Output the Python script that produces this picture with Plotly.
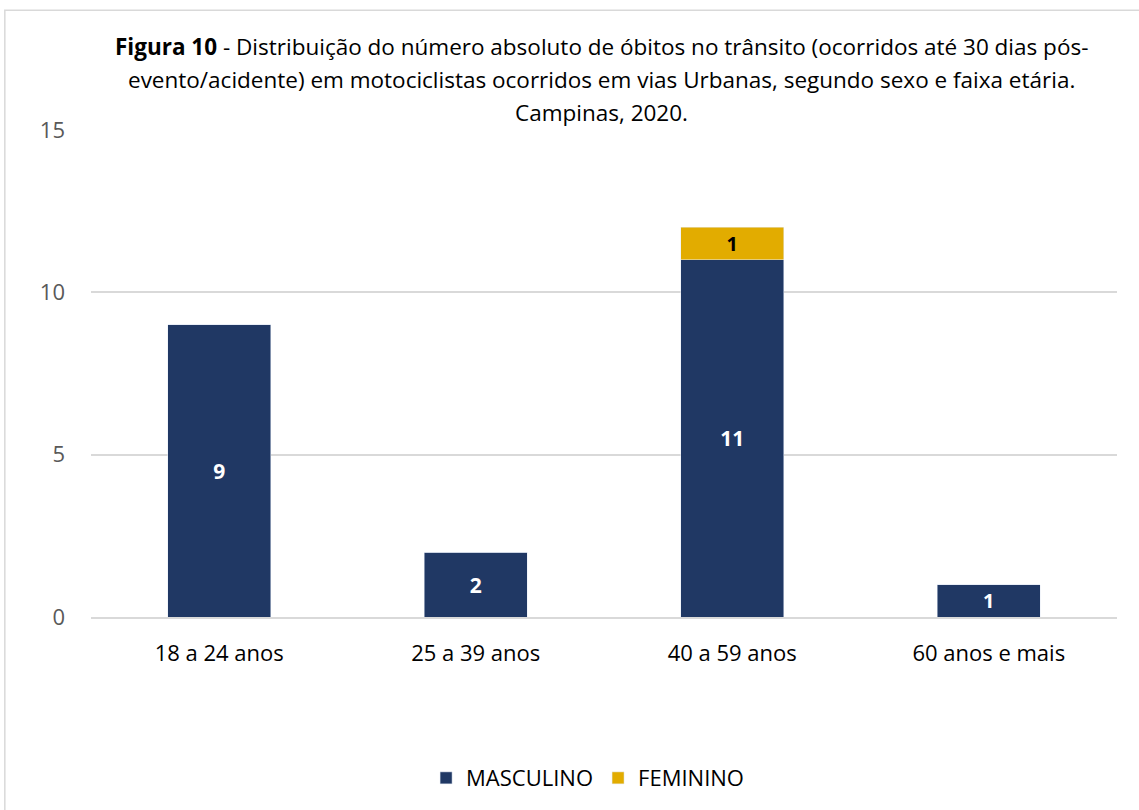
import plotly.graph_objects as go

faixas = ['18 a 24 anos', '25 a 39 anos', '40 a 59 anos', '60 anos e mais']
masculino = [9, 2, 11, 1]
feminino = [0, 0, 1, 0]

AZUL = '#203864'
OURO = '#E2AC00'
FONTE = 'Open Sans, Liberation Sans, sans-serif'

fig = go.Figure()

fig.add_trace(go.Bar(
    x=faixas, y=masculino, name='MASCULINO',
    marker_color=AZUL,
    text=[str(v) if v else '' for v in masculino],
    textposition='inside', insidetextanchor='middle', textangle=0,
    textfont=dict(color='white', size=21, family=FONTE, weight='bold'),
))
fig.add_trace(go.Bar(
    x=faixas, y=feminino, name='FEMININO',
    marker_color=OURO,
    text=[str(v) if v else '' for v in feminino],
    textposition='inside', insidetextanchor='middle', textangle=0,
    textfont=dict(color='black', size=21, family=FONTE, weight='bold'),
))

linhas_titulo = [
    '<b>Figura 10</b> - Distribuição do número absoluto de óbitos no trânsito (ocorridos até 30 dias pós-',
    'evento/acidente) em motociclistas ocorridos em vias Urbanas, segundo sexo e faixa etária.',
    'Campinas, 2020.',
]
# uma anotação por linha para imitar o espaçamento do Excel
for linha, y in zip(linhas_titulo, [1.172, 1.1045, 1.035]):
    fig.add_annotation(
        text=linha, xref='paper', yref='paper', x=0.498, y=y,
        xanchor='center', yanchor='middle', showarrow=False,
        font=dict(size=22.5, family=FONTE, color='black'),
    )

# moldura do gráfico
fig.add_shape(type='rect', xref='paper', yref='paper',
              x0=-0.084, x1=1.05, y0=-0.5, y1=1.246,
              line=dict(color='#D9D9D9', width=1.5), layer='below')

fig.update_layout(
    barmode='stack', bargap=0.6,
    width=1139, height=810,
    margin=dict(l=91, r=22, t=130, b=192),
    paper_bgcolor='white', plot_bgcolor='white',
    font=dict(family=FONTE, size=22, color='#404040'),
    showlegend=True,
    legend=dict(orientation='h', x=0.484, xanchor='center', y=-0.328, yanchor='middle',
                font=dict(size=22, color='black'), traceorder='normal'),
    yaxis=dict(range=[0, 15], tickvals=[0, 5, 10, 15], gridcolor='#D9D9D9', gridwidth=1.5,
               zeroline=False, showline=False, ticks='', ticklabelstandoff=25,
               tickfont=dict(size=22, color='#595959')),
    xaxis=dict(showline=True, linecolor='#D9D9D9', linewidth=1.5, ticks='',
               ticklabelstandoff=16, tickfont=dict(size=22, color='black')),
)

fig.write_html('out.html', config={'displayModeBar': False},
               post_script="document.body.style.margin='0';")
